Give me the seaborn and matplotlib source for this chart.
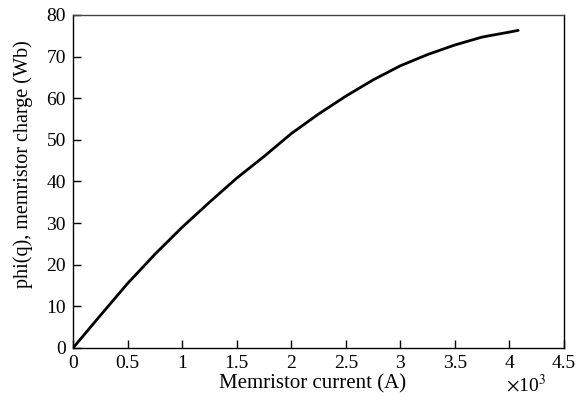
import matplotlib
matplotlib.use("Agg")
import matplotlib.pyplot as plt
import seaborn as sns
import pandas as pd

# Memristor current (in units of 1e3 A) and flux phi(q) (Wb)
current = [0.0, 0.25, 0.5, 0.75, 1.0, 1.25, 1.5, 1.75, 2.0, 2.25, 2.5,
           2.75, 3.0, 3.25, 3.5, 3.75, 4.0, 4.08]
flux = [0.0, 7.8, 15.5, 22.5, 29.0, 35.0, 40.8, 46.0, 51.5, 56.2, 60.5,
        64.4, 67.8, 70.5, 72.8, 74.7, 75.9, 76.3]

x_ticks = [0, 0.5, 1, 1.5, 2, 2.5, 3, 3.5, 4, 4.5]
x_tick_labels = ["0", "0.5", "1", "1.5", "2", "2.5", "3", "3.5", "4", "4.5"]
y_ticks = [0, 10, 20, 30, 40, 50, 60, 70, 80]

sns.set_theme(style="white")
plt.rcParams["font.family"] = ["Liberation Serif", "DejaVu Serif"]
plt.rcParams["mathtext.fontset"] = "stix"

df = pd.DataFrame({"current": current, "flux": flux})

fig = plt.figure(figsize=(5.78, 4.04), dpi=100)
ax = fig.add_axes([73 / 578, 1 - 348 / 404, 491 / 578, 333 / 404])

sns.lineplot(data=df, x="current", y="flux", ax=ax, color="black",
             linewidth=2.0, sort=False)

ax.set_xlim(0, 4.5)
ax.set_ylim(0, 80)
ax.set_xticks(x_ticks)
ax.set_xticklabels(x_tick_labels)
ax.set_yticks(y_ticks)

ax.tick_params(axis="both", which="both", direction="in", length=6,
               width=1, color="black", labelsize=14, labelcolor="black",
               bottom=True, left=True, top=False, right=False)
ax.tick_params(axis="x", pad=5)
ax.tick_params(axis="y", pad=5)

for side in ["top", "right", "bottom", "left"]:
    ax.spines[side].set_visible(True)
    ax.spines[side].set_color("black")
    ax.spines[side].set_linewidth(1.0)
ax.spines["top"].set_color("#444444")

ax.set_xlabel("Memristor current (A)", fontsize=15, color="black")
ax.set_ylabel("phi(q), memristor charge (Wb)", fontsize=14.5, color="black")
ax.xaxis.set_label_coords(0.488, -0.078)
ax.yaxis.set_label_coords(-0.082, 0.553)

ax.text(0.9226, -0.078, r"$\times$10$^{3}$", transform=ax.transAxes,
        ha="center", va="top", fontsize=14, color="black")

fig.savefig("out.png", dpi=100, facecolor="white")
